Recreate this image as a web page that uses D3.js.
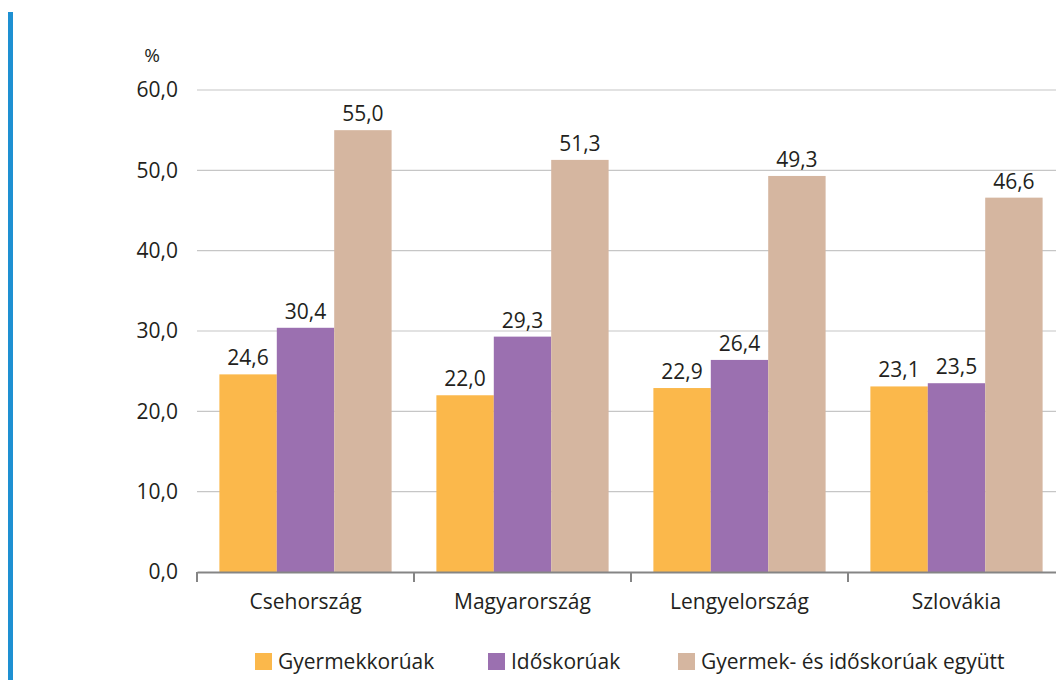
<!DOCTYPE html>
<html><head><meta charset="utf-8">
<script src="https://cdn.jsdelivr.net/npm/d3@7"></script>
<style>body{margin:0;background:#fff}svg{display:block}text{font-family:"Open Sans",sans-serif;fill:#231f20}</style>
</head><body><svg id="c" width="1056" height="680"></svg>
<script>
const categories = ["Csehország","Magyarország","Lengyelország","Szlovákia"];
const seriesNames = ["Gyermekkorúak","Időskorúak","Gyermek- és időskorúak együtt"];
const children = [24.6,22.0,22.9,23.1];
const elderly = [30.4,29.3,26.4,23.5];
const combined = [55.0,51.3,49.3,46.6];
const yTicks = [0,10,20,30,40,50,60];
const colors = ["#FBB84B","#9B70B0","#D5B6A0"];
const series = [children, elderly, combined];

const svg = d3.select("#c");
const fmt = v => d3.format(".1f")(v).replace(".", ",");
const FS = 21;

svg.append("rect").attr("x",8).attr("y",12).attr("width",5).attr("height",668).attr("fill","#1E90D2");

const x = d3.scaleBand().domain(categories).range([197,1065]).paddingInner(0).paddingOuter(0);
const y = d3.scaleLinear().domain([0,60]).range([572,90]);
const xs = d3.scaleBand().domain(d3.range(3)).range([0,x.bandwidth()]).paddingOuter(0.39).paddingInner(0);

// gridlines
svg.append("g").selectAll("line").data(yTicks.filter(t=>t>0)).join("line")
  .attr("x1",197).attr("x2",1056).attr("y1",d=>y(d)).attr("y2",d=>y(d))
  .attr("stroke","#c6c6c6").attr("stroke-width",1.2);

// y labels
svg.append("g").selectAll("text").data(yTicks).join("text")
  .attr("x",178).attr("y",d=>y(d)).attr("dy","0.35em").attr("text-anchor","end")
  .attr("font-size",FS).text(fmt);
svg.append("text").attr("x",152).attr("y",55).attr("dy","0.35em").attr("text-anchor","middle").attr("font-size",19).text("%");

// bars
const g = svg.append("g");
series.forEach((s,i)=>{
  g.selectAll(null).data(s).join("rect")
    .attr("x",(d,j)=>x(categories[j])+xs(i))
    .attr("width",xs.bandwidth())
    .attr("y",d=>y(d)).attr("height",d=>y(0)-y(d))
    .attr("fill",colors[i]);
  g.selectAll(null).data(s).join("text")
    .attr("x",(d,j)=>x(categories[j])+xs(i)+xs.bandwidth()/2)
    .attr("y",d=>y(d)-9).attr("text-anchor","middle").attr("font-size",FS).text(fmt);
});

// x axis
const ax = svg.append("g").attr("transform",`translate(0,${y(0)})`)
  .call(d3.axisBottom(x).tickSize(0).tickPadding(22));
ax.select(".domain").attr("stroke","#858585").attr("stroke-width",2);
ax.selectAll("text").attr("font-size",FS).attr("fill","#231f20").attr("font-family","Open Sans, sans-serif");
svg.append("g").selectAll("line").data(categories.concat([null])).join("line")
  .attr("x1",(d,i)=>197+i*x.bandwidth()).attr("x2",(d,i)=>197+i*x.bandwidth())
  .attr("y1",572).attr("y2",582).attr("stroke","#858585").attr("stroke-width",2);

// legend
const legX = [255,488,678];
const leg = svg.append("g");
seriesNames.forEach((n,i)=>{
  leg.append("rect").attr("x",legX[i]).attr("y",653).attr("width",17).attr("height",17).attr("fill",colors[i]);
  leg.append("text").attr("x",legX[i]+23).attr("y",662).attr("dy","0.35em").attr("font-size",FS).text(n);
});
</script></body></html>
